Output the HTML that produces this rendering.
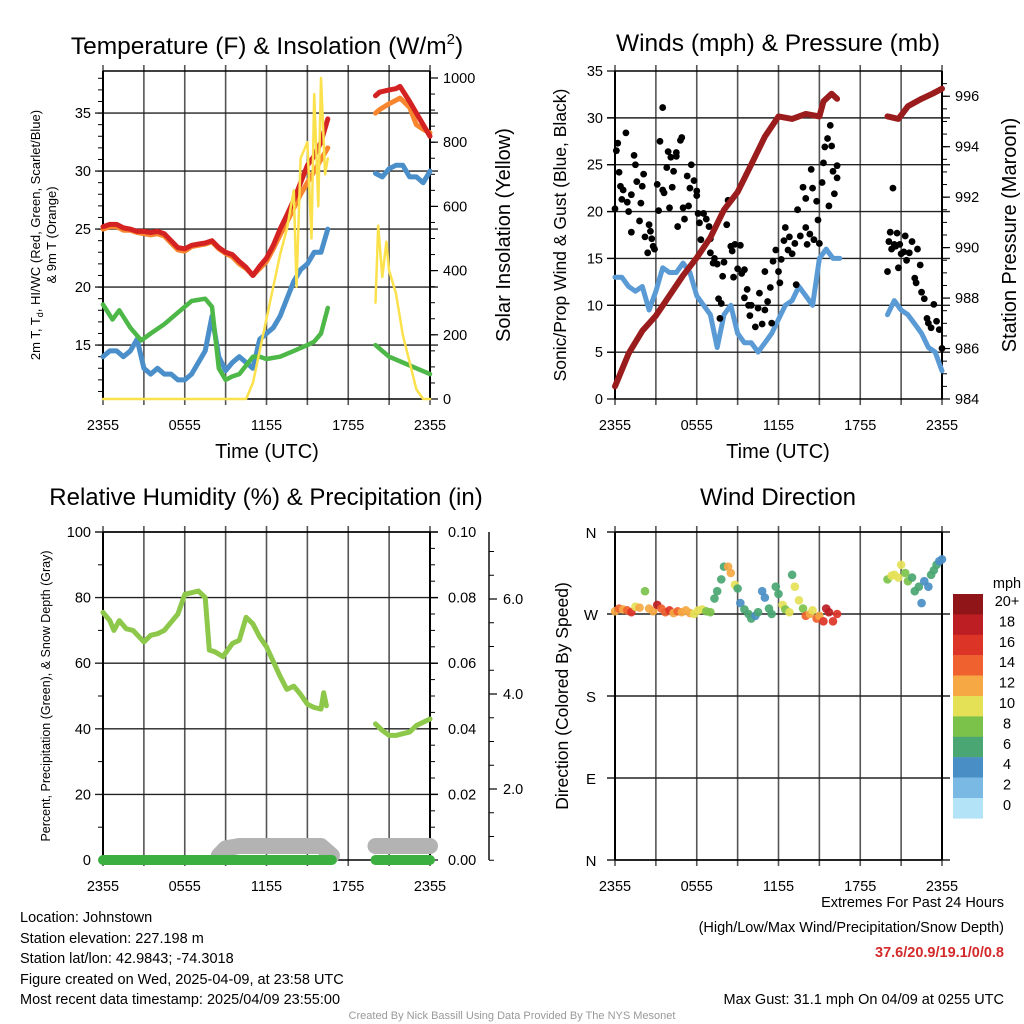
<!DOCTYPE html>
<html><head><meta charset="utf-8">
<style>
body{margin:0;background:#fff;}
svg{display:block;font-family:"Liberation Sans",sans-serif;}
</style></head>
<body>
<svg id="s" width="1024" height="1024" viewBox="0 0 1024 1024" xmlns="http://www.w3.org/2000/svg">
<text x="267" y="54" font-size="24.5" text-anchor="middle">Temperature (F) &amp; Insolation (W/m<tspan font-size="15" dy="-10">2</tspan><tspan dy="10">)</tspan></text>
<text x="778" y="51" font-size="24.5" text-anchor="middle">Winds (mph) &amp; Pressure (mb)</text>
<text x="266" y="505" font-size="24" text-anchor="middle">Relative Humidity (%) &amp; Precipitation (in)</text>
<text x="778" y="505" font-size="24" text-anchor="middle">Wind Direction</text>

<text transform="translate(40,235) rotate(-90)" font-size="13" text-anchor="middle">2m T, T<tspan font-size="9" dy="3">d</tspan><tspan dy="-3">, HI/WC (Red, Green, Scarlet/Blue)</tspan></text>
<text transform="translate(56,235) rotate(-90)" font-size="13" text-anchor="middle">&amp; 9m T (Orange)</text>
<text transform="translate(510,235) rotate(-90)" font-size="20" text-anchor="middle">Solar Insolation (Yellow)</text>
<text transform="translate(566,235) rotate(-90)" font-size="17.5" text-anchor="middle">Sonic/Prop Wind &amp; Gust (Blue, Black)</text>
<text transform="translate(1016,235) rotate(-90)" font-size="20" text-anchor="middle">Station Pressure (Maroon)</text>
<text transform="translate(50,696) rotate(-90)" font-size="12.5" text-anchor="middle">Percent, Precipitation (Green), &amp; Snow Depth (Gray)</text>
<text transform="translate(568,696) rotate(-90)" font-size="17.5" text-anchor="middle">Direction (Colored By Speed)</text>
<text x="267" y="458" font-size="20" text-anchor="middle">Time (UTC)</text>
<text x="778" y="458" font-size="20" text-anchor="middle">Time (UTC)</text>

<g font-size="14.5">
<text x="20" y="922">Location: Johnstown</text>
<text x="20" y="943">Station elevation: 227.198 m</text>
<text x="20" y="963">Station lat/lon: 42.9843; -74.3018</text>
<text x="20" y="984">Figure created on Wed, 2025-04-09, at 23:58 UTC</text>
<text x="20" y="1004">Most recent data timestamp: 2025/04/09 23:55:00</text>
</g>
<g font-size="14.5" text-anchor="end">
<text x="1004" y="907">Extremes For Past 24 Hours</text>
<text x="1004" y="957" fill="#d42a2a" font-weight="bold">37.6/20.9/19.1/0/0.8</text>
<text x="1004" y="932">(High/Low/Max Wind/Precipitation/Snow Depth)</text>
<text x="1004" y="1004">Max Gust: 31.1 mph On 04/09 at 0255 UTC</text>
</g>
<text x="512" y="1019" font-size="11" fill="#999" text-anchor="middle">Created By Nick Bassill Using Data Provided By The NYS Mesonet</text>
<g id="plots"></g>
</svg>
<script>
// ---- data ----
const xTickLabels=["2355","0555","1155","1755","2355"];
const tempHours=[0,0.5,1,1.5,2,2.5,3,3.5,4,4.5,5,5.5,6,6.5,7,7.5,8,8.5,9,9.5,10,10.5,11,11.5,12,12.5,13,13.5,14,14.5,15,15.5,16,16.5,20,20.3,21,21.5,21.8,22.5,23,23.5,24];
const tempRed=[25.2,25.4,25.4,25.1,25.0,24.8,24.8,24.7,24.8,24.6,24.0,23.4,23.3,23.6,23.7,23.8,24.0,23.4,23.0,22.8,22.2,21.7,21.0,21.8,22.5,23.6,25.0,26.2,27.5,29.0,30.5,31.3,32.5,34.5,36.5,36.8,37.0,37.1,37.3,36.0,35.0,34.0,33.0];
const tempOrange=[25.0,25.2,25.2,24.9,24.9,24.7,24.6,24.5,24.6,24.4,23.8,23.2,23.1,23.5,23.6,23.7,23.9,23.3,22.9,22.6,22.0,21.6,21.0,21.6,22.2,23.3,24.5,25.6,26.8,28.0,29.0,30.0,31.0,32.0,35.0,35.3,35.8,36.1,36.3,35.5,34.0,33.6,33.3];
const dewHours=[0,0.5,1,1.5,2,2.5,3,3.5,4,4.5,5,5.5,6,6.5,7,7.5,8,8.5,9,9.5,10,10.5,11,11.5,12,12.5,13,13.5,14,14.5,15,15.5,16,16.5,20,20.5,21,21.5,22,22.5,23,23.5,24];
const dewBlue=[14,14.5,14.5,14,14.5,15.5,13,12.5,13,12.5,12.5,12,12,12.5,13.5,14.5,17.5,14,12.8,13.5,14,13.5,13,15.5,16,16.5,17.5,19,20.5,21.5,22,23,23,25,29.8,29.5,30.2,30.5,30.5,29.5,29.5,29.0,30];
const hiHours=[0,0.7,1.2,2,2.8,3.5,4.5,5.5,6.5,7.5,8,8.5,9,9.5,10,11,11.5,12,13,14,15,15.5,16,16.5,20,21,22,23,24];
const hiGreen=[18.5,17.2,18,16.5,15.4,16,16.8,17.8,18.8,19,18.3,13,12,12.3,12.5,14,14,13.8,14,14.5,15,15.3,16,18.2,15,14,13.5,13,12.5];
const solarHours=[0,2,4,6,8,10,10.5,11,12,13,13.5,14,14.2,14.5,15,15.3,15.5,15.8,16,16.3,16.5,20,20.2,20.5,20.8,21,21.5,22,23,23.5,24];
const solar=[0,0,0,0,0,0,0,50,250,450,530,650,350,750,800,500,950,600,1000,700,750,300,540,380,490,400,330,200,30,0,0];
const windHours=[0,0.5,1,1.5,2,2.5,3,3.5,4,4.5,5,5.5,6,6.5,7,7.5,8,8.5,9,9.5,10,10.5,11,11.5,12,12.5,13,13.5,14,14.5,15,15.5,16,16.5,20,20.5,21,21.5,22,22.5,23,23.5,24];
const windBlue=[13,13,12,11.5,12,9.5,11.5,14,13.5,13.5,14.5,13.5,11,10,9,5.5,9,10,7,6,6,5,6,7,8.5,10,10.5,12,11,10,15,16,15,15,9,10.5,9.5,9,8,7,5.5,5,3];
const gustHours=[0,0.1,0.2,0.3,0.4,0.5,0.6,0.8,0.9,1,1.2,1.2,1.4,1.5,1.6,1.8,1.9,2,2.1,2.2,2.4,2.5,2.6,2.7,2.8,2.9,3.1,3.2,3.3,3.5,3.5,3.6,3.8,3.9,4,4.1,4.2,4.3,4.5,4.5,4.6,4.8,4.9,5,5.1,5.3,5.4,5.5,5.6,5.8,6,6,6.1,6.2,6.3,6.5,6.7,6.9,7,7,7.2,7.3,7.5,7.6,7.7,7.8,7.9,8,8.2,8.3,8.5,8.6,8.7,8.8,9,9.2,9.3,9.5,9.5,9.7,9.8,9.9,10,10.3,10.5,10.6,10.8,11,11,11.2,11.4,11.5,11.6,11.8,12,12.1,12.2,12.4,12.5,12.7,12.8,13,13.2,13.3,13.4,13.6,13.8,14,14,14.1,14.3,14.4,14.5,14.6,14.8,14.9,15,15.2,15.3,15.4,15.6,15.7,15.8,15.9,16,16.1,16.3,16.3,20,20.1,20.2,20.3,20.4,20.5,20.6,20.7,20.8,20.9,21,21.2,21.3,21.4,21.6,21.8,22,22.1,22.2,22.4,22.5,22.7,22.9,23,23.2,23.4,23.6,23.8,24];
const gust=[20.3,26.5,27.3,24.2,22.7,21.3,22.3,28.4,21,20,17.8,21.8,26,25,23.2,19,20.9,22.7,24,17.3,15.6,18.6,17.9,17.1,16.3,16,22.9,20.1,27.5,31.1,22.3,22,24.7,26.4,20.4,25.8,22.6,24.3,26.3,25.9,18.4,27.6,27.9,20.4,19.2,23.8,20.6,22.5,25,23.3,22.2,21.7,19.8,18.8,17,19.8,19.2,18.4,17.1,15.6,14.5,15,14.4,10.7,8.6,10.2,13.1,14.6,18.6,21.2,16.3,15.8,13,16.5,13.9,16.4,13.4,13.8,10.8,11.7,10,8.9,10,7.7,9.7,11.3,8,9.5,13.6,10.4,11.9,8.1,14.7,15.9,13.6,12.4,14.9,16.9,18.3,15.9,17.3,15.5,16.6,12.2,20.2,17.4,22.6,18.3,21.4,16.5,17.6,24.5,22.5,17,21.1,19.1,16.6,23.1,25.2,26.9,27.8,20.6,29.2,27,24.3,21.9,24.9,23.6,13.6,16.8,17.8,16,22.5,16.5,16.3,17.7,14,16.5,15.5,15.7,17.4,14.8,15.6,16.8,12.9,12.4,16,14.3,11.4,10.7,8.6,8.1,7.6,10.1,8.3,7.4,5.4];
const presHours=[0,1,2,3,4,5,6,7,8,9,10,11,12,13,14,15,15.3,15.9,16.3,20,20.8,21.5,22.5,23.3,24];
const pressure=[984.5,985.8,986.7,987.3,988.1,988.9,989.6,990.4,991.5,992.2,993.3,994.4,995.2,995.1,995.3,995.2,995.8,996.1,995.9,995.2,995.1,995.6,995.9,996.1,996.3];
const rhHours=[0,0.5,0.8,1.2,1.7,2.2,3,3.5,4,4.5,5,5.5,6,6.5,7,7.5,7.8,8.2,8.8,9.5,10,10.5,11,11.5,12,12.5,13,13.5,14,14.5,15,15.5,16,16.2,16.4,20,20.5,21,21.5,22,22.5,23,23.5,24];
const rh=[75.5,73,70,73,70.5,70,66.5,68.5,69,70,72.5,75,81,81.5,82,80,64,63.5,62,66,67,74,72,68,65,60.5,56,52,53,50.5,47.5,46.5,46,51,47,41.5,39.5,38,38,38.5,39,41,42,43];
const precipHours=[0,2,4,6,8,10,12,14,16,16.8,20,22,24];
const precipAmt=[0,0,0,0,0,0,0,0,0,0,0,0,0];
const snowHours=[8.5,9,10,11,12,13,14,15,16,16.8,20,21,22,23,24];
const snowDepth=[0.6,0.75,0.8,0.8,0.8,0.8,0.8,0.8,0.8,0.6,0.8,0.8,0.8,0.8,0.8];
const dirHours=[0,0.3,0.6,0.9,1.2,1.5,1.8,2.2,2.5,2.8,3.1,3.4,3.7,4,4.3,4.6,4.9,5.2,5.5,5.8,6.1,6.4,6.7,7,7.3,7.5,7.8,8,8.3,8.5,8.8,9,9.2,9.5,9.8,10,10.3,10.5,10.8,11,11.3,11.5,11.8,12,12.3,12.5,12.8,13,13.2,13.5,13.8,14,14.3,14.5,14.8,15,15.3,15.5,15.7,16,16.3,20,20.3,20.5,20.8,21,21.3,21.5,21.8,22,22.3,22.5,22.7,23,23.2,23.4,23.6,23.8,24];
const dirDeg=[273,276,275,274,272,278,277,295,276,273,280,276,272,274,271,273,272,274,271,270,274,275,273,272,287,295,308,322,322,315,302,298,282,275,270,265,268,272,295,288,276,270,300,292,280,275,272,313,300,285,276,268,270,274,265,268,262,276,272,262,270,308,312,313,310,324,315,306,310,295,300,282,306,300,313,318,324,328,330];
const dirSpeed=[13,14,13,14,17,11,12,8,12,13,19,15,14,17,13,14,12,13,12,10,11,10,9,8,6,7,7,6,12,12,10,6,5,6,7,6,5,6,4,5,7,7,6,7,10,9,10,7,10,10,8,14,13,11,14,12,17,18,19,17,17,9,10,10,11,10,8,9,6,6,7,5,4,4,6,6,6,5,4];
const cbarLabels=["20+","18","16","14","12","10","8","6","4","2","0"];
const cbarColors=["#8f1518","#bd1e24","#dd3428","#ef612e","#f5a843","#e5e157","#7bc24a","#4aa672","#4a8ec6","#7ab9e3","#b3e3f7"];

// ---- drawing ----
const NS="http://www.w3.org/2000/svg";
const root=document.getElementById('plots');
function el(tag,attrs,parent){const e=document.createElementNS(NS,tag);for(const k in attrs)e.setAttribute(k,attrs[k]);(parent||root).appendChild(e);return e;}
function line(x1,y1,x2,y2,stroke,w,p){return el('line',{x1,y1,x2,y2,stroke,'stroke-width':w},p);}
function txt(x,y,s,size,anchor,p){const t=el('text',{x,y,'font-size':size,'text-anchor':anchor},p);t.textContent=s;return t;}
function pathOf(hs,vs,xf,yf){let d="";for(let i=0;i<hs.length;i++){const brk=i===0||hs[i]-hs[i-1]>2.5;d+=(brk?"M":"L")+xf(hs[i]).toFixed(1)+","+yf(vs[i]).toFixed(1);}return d;}
function series(hs,vs,xf,yf,color,w,name){
  const p=el('path',{d:pathOf(hs,vs,xf,yf),fill:'none',stroke:color,'stroke-width':w,'stroke-linejoin':'round','stroke-linecap':'round'});
  
  
  return p;
}
function makeX(L){return h=>L+h*13.625;}
function frame(L,T,R,B,hTicks,name){
  const g=el('g',{});
  
  
  for(let i=0;i<=8;i++){const x=L+i*(R-L)/8;line(x,T-6,x,B+6,'#555',1.6,g);}
  for(const y of hTicks)line(L-8,y,R+8,y,'#222',1.4,g);
  line(L,T,L,B,'#000',2,g);line(R,T,R,B,'#000',2,g);
  line(L,T,R,T,'#000',1.6,g);line(L,B,R,B,'#000',1.6,g);
  for(let i=0;i<5;i++){const t=txt(L+i*(R-L)/4,B+31,xTickLabels[i],14.5,'middle',g);
    
    }
  return g;
}
// Panel 1
(function(){
  const L=103,R=430,T=71,B=399,x=makeX(L);
  const yT=v=>399-(v-10.35)*11.6, yS=v=>399-v*0.321;
  const g=frame(L,T,R,B,[15,20,25,30,35].map(yT),'temperature-plot');
  [15,20,25,30,35].forEach(v=>txt(L-12,yT(v)+5,String(v),14.5,'end',g));
  for(let v=11;v<=38;v++)line(L-5,yT(v),L,yT(v),'#000',1,g);
  [0,200,400,600,800,1000].forEach(v=>{txt(R+13,yS(v)+5,String(v),14.5,'start',g);line(R,yS(v),R+8,yS(v),'#000',1.2,g);});
  for(let v=50;v<1000;v+=50)line(R,yS(v),R+5,yS(v),'#000',1,g);
  series(dewHours,dewBlue,x,yT,'#4a8fca',5,'dewpoint-line');
  series(hiHours,hiGreen,x,yT,'#4db848',4.5,'heat-index-line');
  series(tempHours,tempOrange,x,yT,'#f7862e',5,'temp-9m-line');
  series(tempHours,tempRed,x,yT,'#d42222',5,'temp-2m-line');
  series(solarHours,solar,x,yS,'#fbe14b',2.5,'solar-line');
})();
// Panel 2
(function(){
  const L=615,R=942,T=71,B=399,x=makeX(L);
  const yW=v=>399-v*9.371, yP=v=>399-(v-984)*25.23;
  const g=frame(L,T,R,B,[5,10,15,20,25,30].map(yW),'winds-plot');
  [0,5,10,15,20,25,30,35].forEach(v=>{txt(L-12,yW(v)+5,String(v),14.5,'end',g);line(L-8,yW(v),L,yW(v),'#000',1.2,g);});
  for(let v=984;v<=996;v+=2){txt(R+13,yP(v)+5,String(v),14.5,'start',g);line(R,yP(v),R+8,yP(v),'#000',1.2,g);}
  for(let v=984.5;v<997;v+=0.5)line(R,yP(v),R+5,yP(v),'#000',1,g);
  series(windHours,windBlue,x,yW,'#5b9bd5',5,'wind-speed-line');
  gustHours.forEach((h,i)=>{const c=el('circle',{cx:x(h),cy:yW(gust[i]),r:3.4,fill:'#000'});
    
    });
  series(presHours,pressure,x,yP,'#9b1c1c',6,'pressure-line');
})();
// Panel 3
(function(){
  const L=103,R=430,T=532,B=860,x=makeX(L);
  const yR=v=>860-v*3.28, yPr=v=>860-v*3280, ySn=v=>884-v*47.5;
  const g=frame(L,T,R,B,[20,40,60,80,100].map(yR),'humidity-plot');
  [0,20,40,60,80,100].forEach(v=>txt(L-12,yR(v)+5,String(v),14.5,'end',g));
  for(let v=10;v<100;v+=20)line(L-5,yR(v),L,yR(v),'#000',1,g);
  [0,0.02,0.04,0.06,0.08,0.10].forEach(v=>{txt(R+18,yPr(v)+5,v.toFixed(2),14.5,'start',g);line(R,yPr(v),R+8,yPr(v),'#000',1.2,g);});
  for(let v=0.005;v<0.1;v+=0.005)line(R,yPr(v),R+5,yPr(v),'#000',1,g);
  line(489,532,489,860,'#000',1.4,g);
  [2,4,6].forEach(v=>{txt(503,ySn(v)+5,v.toFixed(1),14.5,'start',g);line(489,ySn(v),497,ySn(v),'#000',1.2,g);});
  for(let v=0.5;v<7.5;v+=0.5)line(489,ySn(v),494,ySn(v),'#000',1,g);
  series(snowHours,snowDepth,x,ySn,'#b3b3b3',16,'snow-depth-line');
  series(precipHours,precipAmt,x,yPr,'#3bb041',10,'precip-line');
  series(rhHours,rh,x,yR,'#8dc84b',5,'rh-line');
})();
// Panel 4
(function(){
  const L=615,R=942,T=532,B=860,x=makeX(L);
  const yD=d=>860-d*0.9111;
  const g=frame(L,T,R,B,[0,90,180,270,360].map(yD),'wind-direction-plot');
  ["N","E","S","W","N"].forEach((s,i)=>txt(L-24,yD(i*90)+6,s,15,'middle',g));
  const col=s=>cbarColors[10-Math.max(0,Math.min(10,Math.floor(s/2)))];
  dirHours.forEach((h,i)=>{const c=el('circle',{cx:x(h),cy:yD(dirDeg[i]),r:4.3,fill:col(dirSpeed[i]),'fill-opacity':0.92});
    
    });
  const cb=el('g',{});
  
  
  txt(1007,588,'mph',14.5,'middle',cb);
  cbarColors.forEach((c,i)=>{el('rect',{x:953,y:594+i*20.4,width:30,height:20.6,fill:c},cb);
    txt(1007,610+i*20.4-4,cbarLabels[i],14.5,'middle',cb);});
})();
</script>
</body></html>
